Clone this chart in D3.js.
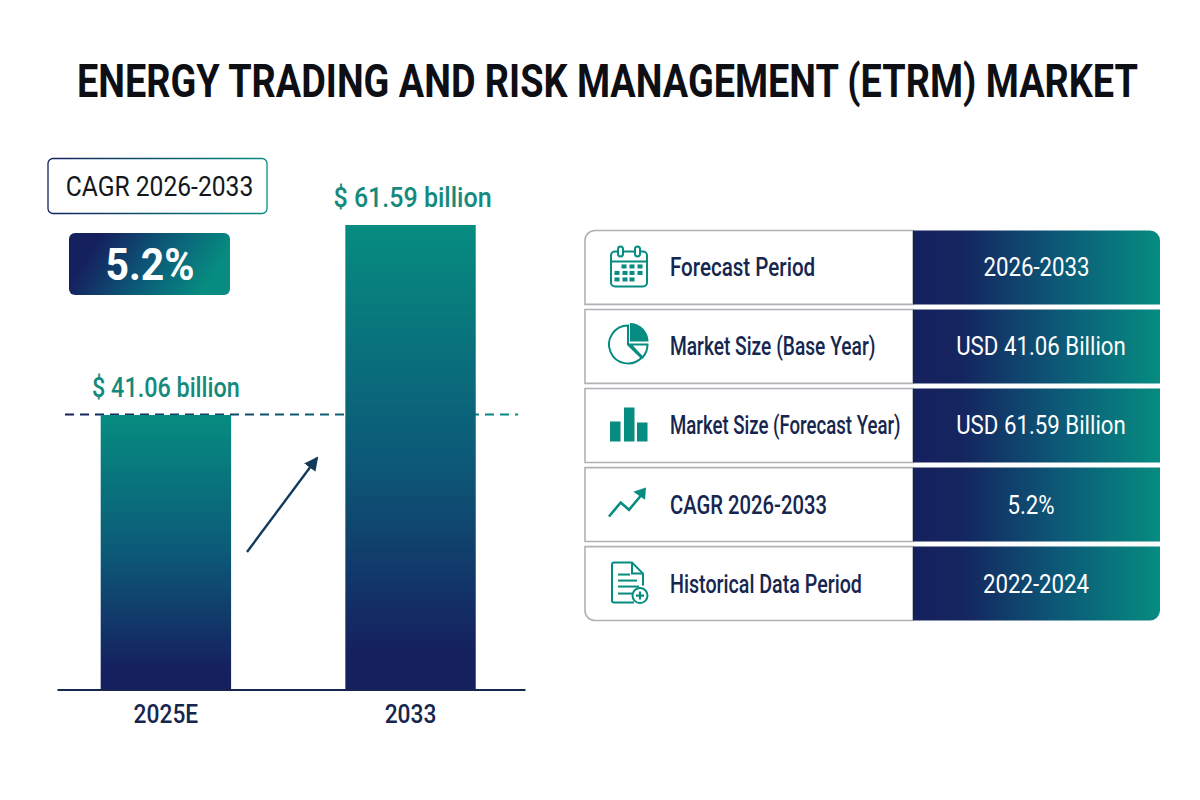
<!DOCTYPE html>
<html>
<head>
<meta charset="utf-8">
<script src="https://cdn.jsdelivr.net/npm/d3@7"></script>
<style>
html,body{margin:0;padding:0;background:#fff}
svg{display:block}
text{font-family:Roboto,sans-serif}
</style>
</head>
<body>
<svg id="chart" width="1200" height="800"></svg>
<script>
const titleText = "ENERGY TRADING AND RISK MANAGEMENT (ETRM) MARKET";
const cagrCaption = "CAGR 2026-2033";
const cagrValue = "5.2%";
const barYears = ["2025E", "2033"];
const barValues = [41.06, 61.59];
const barLabels = ["$ 41.06 billion", "$ 61.59 billion"];
const rowLabels = ["Forecast Period", "Market Size (Base Year)", "Market Size (Forecast Year)", "CAGR 2026-2033", "Historical Data Period"];
const rowValues = ["2026-2033", "USD 41.06 Billion", "USD 61.59 Billion", "5.2%", "2022-2024"];
const rowIcons = ["calendar", "pie", "bars", "trend", "document"];

const NAVY = "#15215f", TEAL = "#068c80", INK = "#16264f", LABEL = "#148a7d", BORDER = "#aeb1b6";
const svg = d3.select("#chart");
const defs = svg.append("defs");

// Narrows real text about its anchor, since no installed face is as condensed as this layout wants.
function squeeze(sel, factor) {
  sel.each(function (d, i) {
    const f = typeof factor === "function" ? factor(d, i) : factor;
    const ax = +this.getAttribute("x") || 0;
    this.setAttribute("transform", `translate(${ax},0) scale(${f},1) translate(${-ax},0)`);
  });
  return sel;
}

function gradient(id, x2, y2, stops) {
  const g = defs.append("linearGradient").attr("id", id)
    .attr("x1", 0).attr("y1", 0).attr("x2", x2).attr("y2", y2);
  stops.forEach(([o, c]) => g.append("stop").attr("offset", o).attr("stop-color", c));
}
gradient("barFill", 0, 1, [[0, TEAL], [0.5, "#0c5a78"], [0.92, NAVY], [1, NAVY]]);
gradient("pillFill", 1, 0.25, [[0, NAVY], [0.2, NAVY], [0.6, "#0c5a78"], [1, TEAL]]);
gradient("rowFill", 1, 0, [[0, NAVY], [0.2, "#15255f"], [0.6, "#0c5a78"], [1, TEAL]]);
gradient("boxStroke", 1, 0, [[0, NAVY], [1, TEAL]]);
defs.append("linearGradient").attr("id", "dashFill").attr("gradientUnits", "userSpaceOnUse")
  .attr("x1", 65).attr("x2", 518).attr("y1", 0).attr("y2", 0)
  .call(g => {
    g.append("stop").attr("offset", 0).attr("stop-color", NAVY);
    g.append("stop").attr("offset", 1).attr("stop-color", TEAL);
  });
defs.append("marker").attr("id", "arrowHead").attr("viewBox", "0 0 14 14")
  .attr("refX", 12).attr("refY", 7).attr("markerWidth", 14).attr("markerHeight", 14)
  .attr("markerUnits", "userSpaceOnUse").attr("orient", "auto")
  .append("path").attr("d", "M0,0L14,7L0,14Z").attr("fill", "#123a5c");

/* Heading: scaled about its centre so that it spans the full page width */
const title = svg.append("text").attr("text-anchor", "middle")
  .attr("font-size", 46).attr("font-weight", 700).attr("fill", "#0d0f14").text(titleText);
title.attr("transform", `translate(607.500,96.500) scale(${1061 / title.node().getComputedTextLength()},1)`);

/* CAGR callout */
svg.append("rect").attr("x", 48).attr("y", 158.500).attr("width", 219).attr("height", 55).attr("rx", 5)
  .attr("fill", "#fff").attr("stroke", "url(#boxStroke)").attr("stroke-width", 1.3);
svg.append("text").attr("x", 159.500).attr("y", 196.500).attr("text-anchor", "middle")
  .attr("font-size", 28).attr("fill", "#14171c").text(cagrCaption).call(squeeze, 0.88);
svg.append("rect").attr("x", 69).attr("y", 233).attr("width", 161).attr("height", 62).attr("rx", 6)
  .attr("fill", "url(#pillFill)");
svg.append("text").attr("x", 150).attr("y", 280).attr("text-anchor", "middle")
  .attr("font-size", 44).attr("font-weight", 700).attr("fill", "#fff").text(cagrValue).call(squeeze, 0.93);

/* Bar panel */
const x = d3.scaleBand().domain(barYears).range([57, 525])
  .paddingInner(0.467).paddingOuter(0.19).align(0.47);
const y = d3.scaleLinear().domain([11.45, 61.59]).range([689, 225]);

svg.append("line").attr("x1", 65).attr("x2", 518).attr("y1", y(barValues[0]) - 0.5).attr("y2", y(barValues[0]) - 0.49)
  .attr("stroke", "url(#dashFill)").attr("stroke-width", 2).attr("stroke-dasharray", "9 6");

svg.append("g").selectAll("rect").data(barYears).join("rect")
  .attr("x", d => x(d)).attr("width", x.bandwidth())
  .attr("y", (d, i) => y(barValues[i])).attr("height", (d, i) => y.range()[0] - y(barValues[i]))
  .attr("fill", "url(#barFill)");

const labelSqueeze = [0.85, 0.91];
svg.append("g").selectAll("text").data(barLabels).join("text")
  .attr("x", (d, i) => x(barYears[i]) + x.bandwidth() / 2 + (i === 0 ? 0 : 2))
  .attr("y", (d, i) => y(barValues[i]) - 17.500)
  .attr("text-anchor", "middle").attr("font-size", 27.5).attr("font-weight", 500).attr("fill", LABEL).text(d => d)
  .call(squeeze, (d, i) => labelSqueeze[i]);

const axis = svg.append("g").attr("transform", "translate(0,689.500)")
  .call(d3.axisBottom(x).tickSize(0).tickPadding(16));
axis.select(".domain").attr("stroke", "#16264f").attr("stroke-width", 2);
axis.selectAll("text").attr("font-size", 25).attr("font-weight", 500).attr("fill", INK)
  .style("font-family", "Roboto,sans-serif").call(squeeze, 0.91);

svg.append("line").attr("x1", 247).attr("y1", 552).attr("x2", 317).attr("y2", 458)
  .attr("stroke", "#123a5c").attr("stroke-width", 2.4).attr("marker-end", "url(#arrowHead)");

/* Summary table */
const tableLeft = 585, tableSplit = 913, tableRight = 1160;
const rowY = d3.scaleBand().domain(rowLabels).range([230.5, 620.5]).paddingInner(0.065);
const h = rowY.bandwidth();
const rowLabelSqueeze = [0.824, 0.768, 0.745, 0.81, 0.787];
const rowValueCentres = [1036.5, 1041, 1041, 1031, 1036];

function rowOutline(x0, x1, y0, h, tl, tr, br, bl) {
  const p = d3.path();
  p.moveTo(x0 + tl, y0); p.lineTo(x1 - tr, y0);
  if (tr) p.arcTo(x1, y0, x1, y0 + tr, tr);
  p.lineTo(x1, y0 + h - br);
  if (br) p.arcTo(x1, y0 + h, x1 - br, y0 + h, br);
  p.lineTo(x0 + bl, y0 + h);
  if (bl) p.arcTo(x0, y0 + h, x0, y0 + h - bl, bl);
  p.lineTo(x0, y0 + tl);
  if (tl) p.arcTo(x0, y0, x0 + tl, y0, tl);
  p.closePath();
  return p.toString();
}

const iconDraw = {
  calendar(g) {
    const s = { fill: "none", stroke: TEAL, "stroke-width": 2 };
    const add = (tag, a) => { const e = g.append(tag); Object.entries({ ...s, ...a }).forEach(([k, v]) => e.attr(k, v)); return e; };
    add("rect", { x: -18, y: -15, width: 36, height: 35, rx: 4 });
    add("line", { x1: -18, x2: 18, y1: -5, y2: -5 });
    add("rect", { x: -11, y: -20, width: 5, height: 10, rx: 2.5, fill: "#fff" });
    add("rect", { x: 6, y: -20, width: 5, height: 10, rx: 2.5, fill: "#fff" });
    [[0, [-5, 3, 11]], [6.5, [-12, -4, 3, 11]], [13, [-12, -4, 3]]].forEach(([cy, xs]) => xs.forEach(cx =>
      g.append("rect").attr("x", cx - 2.5).attr("y", cy - 2).attr("width", 5).attr("height", 4).attr("fill", TEAL)));
  },
  pie(g) {
    const arc = d3.arc();
    const piece = (inner, s, e) => arc({ innerRadius: inner, outerRadius: 18.5, startAngle: s, endAngle: e });
    g.append("path").attr("transform", "translate(-1,-1)")
      .attr("d", "M0,-19A19,19 0 1 0 13.6,13.3L0,0Z").attr("fill", "none").attr("stroke", TEAL).attr("stroke-width", 2);
    g.append("path").attr("transform", "translate(1,-4)")
      .attr("d", piece(0, 0, Math.PI / 2)).attr("fill", TEAL);
    g.append("path").attr("transform", "translate(1.500,-1)")
      .attr("d", "M0,0L17,0A19,19 0 0 1 12,13Z").attr("fill", "none").attr("stroke", TEAL).attr("stroke-width", 2);
  },
  bars(g) {
    [[-19, -3], [-5, -17], [8, -2]].forEach(([bx, by]) =>
      g.append("rect").attr("x", bx).attr("y", by).attr("width", 10.5).attr("height", 17 - by).attr("fill", TEAL));
  },
  trend(g) {
    g.append("path").attr("d", "M-20,13L-8.300,-1L0,6.300L12,-8").attr("fill", "none").attr("stroke", TEAL).attr("stroke-width", 2.6);
    g.append("path").attr("d", "M4.300,-11.700L17,-16L16,-3.700Z").attr("fill", TEAL);
  },
  document(g) {
    const st = e => e.attr("fill", "none").attr("stroke", TEAL).attr("stroke-width", 2);
    st(g.append("path")).attr("d", "M5,20L-15,20Q-17,20 -17,18L-17,-18Q-17,-20 -15,-20L3,-20L14,-9L14,3");
    st(g.append("path")).attr("d", "M3,-20L3,-9L14,-9");
    [[-11, 1, -8], [-11, 8, -2], [-11, 10, 4], [-11, 3, 11]].forEach(([a, b, ly]) =>
      st(g.append("line")).attr("x1", a).attr("x2", b).attr("y1", ly).attr("y2", ly));
    st(g.append("circle")).attr("cx", 11).attr("cy", 13).attr("r", 7.500).attr("fill", "#fff");
    g.append("path").attr("d", "M7,13H15M11,9V17").attr("stroke", TEAL).attr("stroke-width", 2.2);
  }
};

const rows = svg.append("g").selectAll("g").data(rowLabels).join("g");
rows.each(function (label, i) {
  const g = d3.select(this), top = rowY(label);
  const first = i === 0 ? 10 : 0, last = i === rowLabels.length - 1 ? 10 : 0;
  g.append("path").attr("d", rowOutline(tableLeft, tableSplit, top, h, first, 0, 0, last))
    .attr("fill", "#fff").attr("stroke", BORDER).attr("stroke-width", 1.6);
  g.append("path").attr("d", rowOutline(tableSplit, tableRight, top, h, 0, first, last, 0))
    .attr("fill", "url(#rowFill)");
  g.append("text").attr("x", 670).attr("y", top + h / 2 + 9).attr("font-size", 25).attr("font-weight", 500)
    .attr("fill", INK).text(label).call(squeeze, rowLabelSqueeze[i]);
  g.append("text").attr("x", rowValueCentres[i]).attr("y", top + h / 2 + 9).attr("text-anchor", "middle")
    .attr("font-size", 25).attr("fill", "#fff").text(rowValues[i]).call(squeeze, 0.89);
  iconDraw[rowIcons[i]](g.append("g").attr("transform", `translate(629,${top + h / 2 - 1})`));
});
</script>
</body>
</html>
